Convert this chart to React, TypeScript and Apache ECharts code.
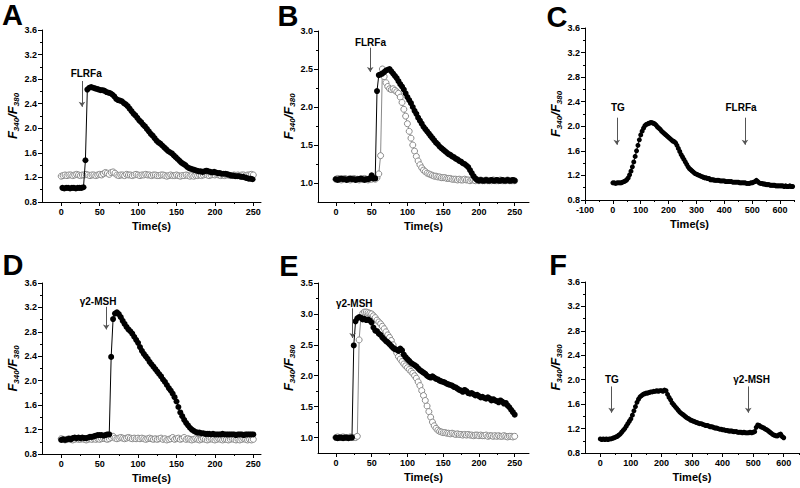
import React, { useEffect, useRef } from "react";
import * as echarts from "echarts";

// ---------------- tick values ----------------
const X_MAJOR_250 = [0, 50, 100, 150, 200, 250];
const X_MINOR_250 = [25, 75, 125, 175, 225];
const X_MAJOR_C = [-100, 0, 100, 200, 300, 400, 500, 600];
const X_MINOR_C = [-50, 50, 150, 250, 350, 450, 550, 650];
const X_MAJOR_F = [0, 100, 200, 300, 400, 500, 600];
const X_MINOR_F = [50, 150, 250, 350, 450, 550, 650];
const Y_MAJOR_36 = [0.8, 1.2, 1.6, 2.0, 2.4, 2.8, 3.2, 3.6];
const Y_MINOR_36 = [1.0, 1.4, 1.8, 2.2, 2.6, 3.0, 3.4];
const Y_MAJOR_30 = [1.0, 1.5, 2.0, 2.5, 3.0];
const Y_MINOR_30 = [1.25, 1.75, 2.25, 2.75];
const Y_MAJOR_35 = [1.0, 1.5, 2.0, 2.5, 3.0, 3.5];
const Y_MINOR_35 = [1.25, 1.75, 2.25, 2.75, 3.25];

// ---------------- data (F340/F380 ratios) ----------------
// A: control (open) sampled every 2.5 s from 0 s
const A_OPEN = [
  1.22, 1.23, 1.24, 1.23, 1.24, 1.24, 1.23, 1.24, 1.25, 1.24,
  1.23, 1.24, 1.24, 1.25, 1.24, 1.23, 1.24, 1.24, 1.23, 1.24,
  1.25, 1.24, 1.26, 1.28, 1.27, 1.25, 1.28, 1.29, 1.27, 1.24,
  1.23, 1.24, 1.24, 1.23, 1.25, 1.24, 1.24, 1.23, 1.24, 1.25,
  1.24, 1.23, 1.24, 1.24, 1.25, 1.24, 1.24, 1.23, 1.24, 1.24,
  1.23, 1.23, 1.24, 1.24, 1.23, 1.22, 1.23, 1.24, 1.23, 1.23,
  1.24, 1.23, 1.22, 1.23, 1.23, 1.24, 1.23, 1.22, 1.23, 1.22,
  1.23, 1.23, 1.24, 1.23, 1.24, 1.25, 1.24, 1.23, 1.24, 1.25,
  1.24, 1.25, 1.24, 1.23, 1.24, 1.23, 1.24, 1.24, 1.23, 1.23,
  1.24, 1.23, 1.24, 1.23, 1.24, 1.24, 1.23, 1.24, 1.24, 1.25,
  1.24,
];
// A: FLRFa (filled) sampled every 2.5 s from 1.5 s
const A_FILLED = [
  1.03, 1.02, 1.03, 1.03, 1.02, 1.03, 1.03, 1.02, 1.03, 1.03,
  1.03, 1.04, 1.48, 2.63, 2.66, 2.67, 2.66, 2.65, 2.64, 2.63,
  2.62, 2.62, 2.61, 2.59, 2.58, 2.57, 2.55, 2.52, 2.48, 2.46,
  2.45, 2.44, 2.41, 2.39, 2.36, 2.32, 2.28, 2.24, 2.21, 2.17,
  2.13, 2.10, 2.06, 2.03, 1.99, 1.95, 1.91, 1.88, 1.84, 1.80,
  1.77, 1.75, 1.72, 1.69, 1.66, 1.63, 1.61, 1.59, 1.56, 1.53,
  1.50, 1.47, 1.44, 1.42, 1.40, 1.37, 1.35, 1.34, 1.33, 1.32,
  1.31, 1.30, 1.30, 1.29, 1.30, 1.31, 1.30, 1.29, 1.28, 1.29,
  1.28, 1.27, 1.27, 1.26, 1.26, 1.26, 1.25, 1.24, 1.23, 1.23,
  1.22, 1.22, 1.22, 1.21, 1.21, 1.20, 1.19, 1.18, 1.18, 1.17,
];
// B: every 2.5 s from 0 s
const B_OPEN = [
  1.05, 1.06, 1.05, 1.04, 1.05, 1.06, 1.05, 1.05, 1.04, 1.05,
  1.06, 1.05, 1.05, 1.04, 1.05, 1.05, 1.06, 1.05, 1.04, 1.05,
  1.05, 1.06, 1.05, 1.07, 1.12, 1.36, 2.50, 2.40, 2.32, 2.27,
  2.24, 2.23, 2.24, 2.22, 2.20, 2.18, 2.13, 2.06, 1.97, 1.88,
  1.78, 1.68, 1.59, 1.50, 1.42, 1.35, 1.29, 1.24, 1.20, 1.17,
  1.15, 1.13, 1.12, 1.11, 1.10, 1.09, 1.09, 1.08, 1.08, 1.07,
  1.07, 1.07, 1.06, 1.06, 1.06, 1.05, 1.05, 1.05, 1.04, 1.05,
  1.04, 1.04, 1.05, 1.04, 1.04, 1.03, 1.04, 1.04, 1.03, 1.04,
  1.03, 1.04, 1.03, 1.03, 1.04, 1.03, 1.03, 1.03, 1.04, 1.03,
  1.03, 1.03, 1.04, 1.03, 1.03, 1.03, 1.04, 1.03, 1.03, 1.03,
  1.03,
];
const B_FILLED = [
  1.05, 1.04, 1.05, 1.06, 1.05, 1.05, 1.04, 1.05, 1.06, 1.05,
  1.05, 1.04, 1.05, 1.05, 1.06, 1.05, 1.04, 1.05, 1.05, 1.06,
  1.10, 1.06, 1.06, 2.21, 2.42, 2.43, 2.44, 2.46, 2.48, 2.49,
  2.50, 2.47, 2.44, 2.41, 2.38, 2.34, 2.30, 2.27, 2.23, 2.18,
  2.13, 2.09, 2.05, 2.00, 1.95, 1.91, 1.86, 1.82, 1.78, 1.74,
  1.71, 1.68, 1.65, 1.62, 1.59, 1.56, 1.53, 1.51, 1.48, 1.46,
  1.44, 1.42, 1.40, 1.38, 1.37, 1.35, 1.34, 1.32, 1.31, 1.29,
  1.28, 1.26, 1.25, 1.23, 1.21, 1.17, 1.13, 1.09, 1.06, 1.04,
  1.03, 1.04, 1.03, 1.03, 1.04, 1.03, 1.03, 1.04, 1.03, 1.03,
  1.04, 1.03, 1.03, 1.04, 1.03, 1.03, 1.04, 1.03, 1.03, 1.04,
  1.03,
];
// C: TG then FLRFa, every 5 s from 0 s
const C_TRACE = [
  1.08, 1.08, 1.07, 1.08, 1.08, 1.08, 1.08, 1.09, 1.10, 1.11,
  1.13, 1.16, 1.21, 1.27, 1.34, 1.42, 1.51, 1.60, 1.69, 1.78,
  1.86, 1.92, 1.97, 2.01, 2.03, 2.04, 2.05, 2.06, 2.06, 2.05,
  2.04, 2.02, 1.99, 1.97, 1.95, 1.92, 1.90, 1.88, 1.86, 1.84,
  1.82, 1.80, 1.78, 1.76, 1.75, 1.73, 1.69, 1.64, 1.59, 1.54,
  1.50, 1.46, 1.42, 1.38, 1.34, 1.31, 1.29, 1.27, 1.25, 1.23,
  1.22, 1.21, 1.20, 1.19, 1.18, 1.17, 1.16, 1.16, 1.15, 1.15,
  1.13, 1.13, 1.13, 1.12, 1.12, 1.12, 1.12, 1.11, 1.11, 1.11,
  1.11, 1.10, 1.10, 1.10, 1.10, 1.10, 1.09, 1.09, 1.09, 1.09,
  1.09, 1.08, 1.08, 1.08, 1.08, 1.08, 1.07, 1.07, 1.07, 1.08,
  1.08, 1.09, 1.10, 1.12, 1.10, 1.08, 1.07, 1.07, 1.06, 1.06,
  1.05, 1.05, 1.05, 1.04, 1.04, 1.04, 1.04, 1.03, 1.03, 1.03,
  1.03, 1.03, 1.03, 1.02, 1.03, 1.02, 1.02, 1.03, 1.02, 1.02,
];
// D: every 2.5 s from 0 s
const D_OPEN = [
  1.05, 1.04, 1.03, 1.04, 1.05, 1.04, 1.03, 1.04, 1.05, 1.04,
  1.04, 1.05, 1.04, 1.03, 1.04, 1.05, 1.04, 1.05, 1.04, 1.05,
  1.04, 1.05, 1.06, 1.05, 1.04, 1.05, 1.07, 1.09, 1.06, 1.05,
  1.06, 1.07, 1.06, 1.05, 1.06, 1.07, 1.06, 1.05, 1.06, 1.05,
  1.06, 1.05, 1.06, 1.05, 1.04, 1.05, 1.06, 1.05, 1.04, 1.05,
  1.04, 1.05, 1.06, 1.04, 1.05, 1.03, 1.04, 1.05, 1.07, 1.04,
  1.05, 1.06, 1.04, 1.05, 1.07, 1.04, 1.05, 1.04, 1.03, 1.04,
  1.05, 1.04, 1.03, 1.04, 1.05, 1.04, 1.03, 1.04, 1.05, 1.04,
  1.03, 1.04, 1.05, 1.04, 1.03, 1.04, 1.04, 1.03, 1.04, 1.05,
  1.04, 1.03, 1.04, 1.03, 1.04, 1.05, 1.04, 1.03, 1.04, 1.03,
  1.04,
];
const D_FILLED = [
  1.03, 1.04, 1.03, 1.04, 1.05, 1.04, 1.06, 1.07, 1.06, 1.07,
  1.06, 1.07, 1.06, 1.06, 1.07, 1.08, 1.08, 1.09, 1.10, 1.11,
  1.11, 1.11, 1.10, 1.11, 1.12, 1.12, 2.39, 3.01, 3.10, 3.12,
  3.09, 3.04, 2.98, 2.93, 2.88, 2.84, 2.81, 2.77, 2.72, 2.67,
  2.62, 2.55, 2.49, 2.44, 2.40, 2.36, 2.31, 2.27, 2.23, 2.19,
  2.15, 2.11, 2.07, 2.02, 1.98, 1.93, 1.88, 1.84, 1.79, 1.73,
  1.66, 1.57, 1.48, 1.42, 1.36, 1.31, 1.27, 1.23, 1.20, 1.18,
  1.16, 1.15, 1.15, 1.14, 1.14, 1.13, 1.13, 1.13, 1.12, 1.13,
  1.12, 1.12, 1.12, 1.12, 1.13, 1.12, 1.12, 1.12, 1.12, 1.12,
  1.12, 1.11, 1.12, 1.12, 1.12, 1.11, 1.12, 1.12, 1.12, 1.12,
  1.12,
];
// E: every 2.5 s from 0 s
const E_OPEN = [
  1.00, 1.01, 1.00, 1.00, 1.01, 1.00, 1.00, 1.00, 1.01, 1.00,
  1.00, 1.00, 1.02, 2.58, 2.95, 3.01, 3.03, 3.03, 3.02, 3.01,
  3.00, 2.97, 2.94, 2.90, 2.87, 2.84, 2.80, 2.76, 2.71, 2.66,
  2.62, 2.57, 2.50, 2.43, 2.37, 2.31, 2.27, 2.23, 2.19, 2.16,
  2.13, 2.10, 2.07, 2.04, 2.00, 1.96, 1.90, 1.84, 1.76, 1.68,
  1.60, 1.51, 1.42, 1.33, 1.25, 1.19, 1.15, 1.12, 1.10, 1.09,
  1.08, 1.08, 1.07, 1.07, 1.06, 1.07, 1.06, 1.05, 1.06, 1.05,
  1.05, 1.04, 1.05, 1.04, 1.05, 1.04, 1.04, 1.03, 1.04, 1.04,
  1.03, 1.04, 1.03, 1.03, 1.04, 1.02, 1.03, 1.03, 1.02, 1.03,
  1.02, 1.03, 1.02, 1.02, 1.03, 1.02, 1.01, 1.02, 1.02, 1.01,
  1.02,
];
const E_FILLED = [
  1.00, 0.99, 1.00, 1.00, 0.99, 1.00, 1.00, 0.99, 1.00, 1.00,
  2.49, 2.88, 2.93, 2.95, 2.94, 2.91, 2.92, 2.90, 2.91, 2.89,
  2.86, 2.78, 2.73, 2.72, 2.68, 2.66, 2.62, 2.59, 2.56, 2.54,
  2.51, 2.48, 2.45, 2.43, 2.42, 2.40, 2.44, 2.41, 2.34, 2.30,
  2.27, 2.24, 2.21, 2.19, 2.17, 2.15, 2.12, 2.09, 2.07, 2.05,
  2.03, 2.00, 1.98, 1.97, 1.99, 1.97, 1.95, 1.94, 1.92, 1.91,
  1.90, 1.89, 1.87, 1.86, 1.85, 1.84, 1.82, 1.81, 1.79, 1.77,
  1.76, 1.74, 1.77, 1.75, 1.72, 1.71, 1.72, 1.70, 1.68, 1.69,
  1.67, 1.65, 1.66, 1.64, 1.63, 1.65, 1.63, 1.60, 1.62, 1.60,
  1.59, 1.57, 1.60, 1.58, 1.55, 1.56, 1.52, 1.49, 1.45, 1.41,
  1.37,
];
// F: TG then γ2-MSH, every 5 s from 0 s
const F_TRACE = [
  1.03, 1.02, 1.03, 1.02, 1.03, 1.02, 1.03, 1.03, 1.04, 1.05,
  1.06, 1.07, 1.09, 1.11, 1.14, 1.17, 1.20, 1.24, 1.28, 1.32,
  1.36, 1.42, 1.49, 1.56, 1.63, 1.68, 1.72, 1.74, 1.76, 1.77,
  1.78, 1.78, 1.79, 1.80, 1.80, 1.81, 1.81, 1.82, 1.81, 1.82,
  1.82, 1.81, 1.83, 1.82, 1.76, 1.71, 1.67, 1.62, 1.59, 1.56,
  1.53, 1.50, 1.47, 1.45, 1.43, 1.41, 1.39, 1.37, 1.36, 1.34,
  1.33, 1.32, 1.31, 1.30, 1.29, 1.28, 1.28, 1.27, 1.26, 1.25,
  1.25, 1.24, 1.23, 1.23, 1.22, 1.21, 1.21, 1.20, 1.19, 1.19,
  1.18, 1.18, 1.17, 1.17, 1.16, 1.16, 1.16, 1.15, 1.15, 1.15,
  1.14, 1.14, 1.14, 1.13, 1.14, 1.13, 1.13, 1.13, 1.14, 1.13,
  1.14, 1.15, 1.22, 1.26, 1.25, 1.23, 1.22, 1.21, 1.19, 1.18,
  1.16, 1.14, 1.12, 1.10, 1.09, 1.08, 1.08, 1.10, 1.11, 1.07,
  1.05,
];

// ---------------- layout & styles ----------------
const FONT = "'Liberation Sans', Arial, Helvetica, sans-serif";
const BLACK = "#000000";
const OPEN_GRAY = "#8a8a8a";

type Trace = { kind: "open" | "filled" | "trace"; t0: number; step: number; values: number[] };
type Note = { text: string; at: [number, number]; arrow: [number, number, number] };
type Panel = {
  letter: string;
  letterPos: [number, number];
  rect: { left: number; top: number; width: number; height: number };
  x: [number, number];
  xMajor: number[];
  xMinor: number[];
  y: [number, number];
  yMajor: number[];
  yMinor: number[];
  traces: Trace[];
  notes: Note[];
};

const PANELS: Panel[] = [
  {
    letter: "A", letterPos: [12.5, 15],
    rect: { left: 42, top: 30, width: 219, height: 172 },
    x: [-25, 260], xMajor: X_MAJOR_250, xMinor: X_MINOR_250,
    y: [0.8, 3.6], yMajor: Y_MAJOR_36, yMinor: Y_MINOR_36,
    traces: [
      { kind: "open", t0: 0, step: 2.5, values: A_OPEN },
      { kind: "filled", t0: 1.5, step: 2.5, values: A_FILLED },
    ],
    notes: [{ text: "FLRFa", at: [32.5, 2.89], arrow: [27, 2.77, 2.35] }],
  },
  {
    letter: "B", letterPos: [288, 15.5],
    rect: { left: 318, top: 31, width: 211, height: 171 },
    x: [-25, 270], xMajor: X_MAJOR_250, xMinor: X_MINOR_250,
    y: [0.75, 3.0], yMajor: Y_MAJOR_30, yMinor: Y_MINOR_30,
    traces: [
      { kind: "open", t0: 0, step: 2.5, values: B_OPEN },
      { kind: "filled", t0: 0, step: 2.5, values: B_FILLED },
    ],
    notes: [{ text: "FLRFa", at: [48.3, 2.85], arrow: [48, 2.78, 2.46] }],
  },
  {
    letter: "C", letterPos: [557, 16.5],
    rect: { left: 585, top: 28, width: 209, height: 172 },
    x: [-100, 650], xMajor: X_MAJOR_C, xMinor: X_MINOR_C,
    y: [0.8, 3.6], yMajor: Y_MAJOR_36, yMinor: Y_MINOR_36,
    traces: [{ kind: "trace", t0: 0, step: 5, values: C_TRACE }],
    notes: [
      { text: "TG", at: [18, 2.3], arrow: [14, 2.14, 1.7] },
      { text: "FLRFa", at: [460, 2.3], arrow: [474, 2.14, 1.7] },
    ],
  },
  {
    letter: "D", letterPos: [13, 265],
    rect: { left: 42, top: 283, width: 219, height: 171 },
    x: [-25, 260], xMajor: X_MAJOR_250, xMinor: X_MINOR_250,
    y: [0.8, 3.6], yMajor: Y_MAJOR_36, yMinor: Y_MINOR_36,
    traces: [
      { kind: "open", t0: 0, step: 2.5, values: D_OPEN },
      { kind: "filled", t0: 0, step: 2.5, values: D_FILLED },
    ],
    notes: [{ text: "γ2-MSH", at: [48, 3.3], arrow: [58.6, 3.21, 2.84] }],
  },
  {
    letter: "E", letterPos: [289, 266],
    rect: { left: 318, top: 283, width: 211, height: 170 },
    x: [-25, 270], xMajor: X_MAJOR_250, xMinor: X_MINOR_250,
    y: [0.75, 3.5], yMajor: Y_MAJOR_35, yMinor: Y_MINOR_35,
    traces: [
      { kind: "open", t0: 0, step: 2.5, values: E_OPEN },
      { kind: "filled", t0: 0, step: 2.5, values: E_FILLED },
    ],
    notes: [{ text: "γ2-MSH", at: [25.7, 3.17], arrow: [23.4, 3.09, 2.61] }],
  },
  {
    letter: "F", letterPos: [558, 265],
    rect: { left: 585, top: 282, width: 214, height: 171 },
    x: [-50, 650], xMajor: X_MAJOR_F, xMinor: X_MINOR_F,
    y: [0.8, 3.6], yMajor: Y_MAJOR_36, yMinor: Y_MINOR_36,
    traces: [{ kind: "trace", t0: 0, step: 5, values: F_TRACE }],
    notes: [
      { text: "TG", at: [38, 2.0], arrow: [37, 1.89, 1.46] },
      { text: "γ2-MSH", at: [495, 2.0], arrow: [484, 1.89, 1.46] },
    ],
  },
];

const toPairs = (t: Trace) => t.values.map((v, i) => [t.t0 + i * t.step, v]);

function buildOption() {
  const grid: any[] = [];
  const xAxis: any[] = [];
  const yAxis: any[] = [];
  const series: any[] = [];
  const graphic: any[] = [];

  PANELS.forEach((p, i) => {
    grid.push({ ...p.rect, containLabel: false, outerBoundsMode: "none" });

    xAxis.push({
      type: "value", gridIndex: i, min: p.x[0], max: p.x[1], position: "bottom",
      axisLine: { show: true, onZero: false, lineStyle: { color: BLACK, width: 1 } },
      axisTick: { show: true, customValues: p.xMajor, length: 4, lineStyle: { color: BLACK, width: 1 } },
      axisLabel: {
        show: true, customValues: p.xMajor, margin: 5, fontSize: 9, fontWeight: "bold",
        fontFamily: FONT, color: BLACK,
      },
      splitLine: { show: false },
      name: "Time(s)", nameLocation: "middle", nameGap: 18,
      nameTextStyle: { fontSize: 11, fontWeight: "bold", fontFamily: FONT, color: BLACK },
    });
    xAxis.push({
      type: "value", gridIndex: i, min: p.x[0], max: p.x[1], position: "bottom",
      axisLine: { show: false, onZero: false },
      axisTick: { show: true, customValues: p.xMinor, length: 2, lineStyle: { color: BLACK, width: 1 } },
      axisLabel: { show: false },
      splitLine: { show: false },
    });

    yAxis.push({
      type: "value", gridIndex: i, min: p.y[0], max: p.y[1], position: "left",
      axisLine: { show: true, onZero: false, lineStyle: { color: BLACK, width: 1 } },
      axisTick: { show: true, customValues: p.yMajor, length: 4, lineStyle: { color: BLACK, width: 1 } },
      axisLabel: {
        show: true, customValues: p.yMajor, margin: 5, fontSize: 9, fontWeight: "bold",
        fontFamily: FONT, color: BLACK, formatter: (v: number) => v.toFixed(1),
      },
      splitLine: { show: false },
      name: "{f|F}{s|340}{f|/F}{s|380}",
      nameLocation: "middle", nameRotate: 90, nameGap: 21,
      nameTextStyle: {
        color: BLACK,
        rich: {
          f: { fontSize: 13, fontWeight: "bold", fontStyle: "italic", fontFamily: FONT, color: BLACK, lineHeight: 16 },
          s: { fontSize: 8, fontWeight: "bold", fontStyle: "italic", fontFamily: FONT, color: BLACK, lineHeight: 9, verticalAlign: "bottom" },
        },
      },
    });
    yAxis.push({
      type: "value", gridIndex: i, min: p.y[0], max: p.y[1], position: "left",
      axisLine: { show: false, onZero: false },
      axisTick: { show: true, customValues: p.yMinor, length: 2, lineStyle: { color: BLACK, width: 1 } },
      axisLabel: { show: false },
      splitLine: { show: false },
    });

    p.traces.forEach((t, k) => {
      const isOpen = t.kind === "open";
      const isTrace = t.kind === "trace";
      const s: any = {
        type: "line",
        xAxisIndex: 2 * i,
        yAxisIndex: 2 * i,
        data: toPairs(t),
        symbol: "circle",
        symbolSize: isTrace ? 5 : 6,
        showSymbol: true,
        silent: true,
        lineStyle: { color: isOpen ? OPEN_GRAY : BLACK, width: 1 },
        itemStyle: isOpen
          ? { color: "#ffffff", borderColor: OPEN_GRAY, borderWidth: 1 }
          : { color: BLACK, borderWidth: 0 },
        emphasis: { disabled: true },
        z: 2 + k,
      };
      if (k === p.traces.length - 1) {
        s.markLine = {
          silent: true,
          symbol: ["none", "arrow"],
          symbolSize: 5,
          label: { show: false },
          lineStyle: { color: "#555555", width: 1, type: "solid" },
          emphasis: { disabled: true },
          data: p.notes.map((n) => [
            { coord: [n.arrow[0], n.arrow[1]] },
            { coord: [n.arrow[0], n.arrow[2]] },
          ]),
        };
        s.markPoint = {
          silent: true,
          symbol: "circle",
          symbolSize: 1,
          itemStyle: { color: "rgba(0,0,0,0)" },
          emphasis: { disabled: true },
          data: p.notes.map((n) => ({
            coord: n.at,
            label: {
              show: true, position: "inside", formatter: n.text,
              fontSize: 10, fontWeight: "bold", fontFamily: FONT, color: BLACK,
            },
          })),
        };
      }
      series.push(s);
    });

    graphic.push({
      type: "text",
      x: p.letterPos[0],
      y: p.letterPos[1],
      style: {
        text: p.letter,
        fontSize: 29,
        fontWeight: "bold",
        fontFamily: FONT,
        fill: BLACK,
        align: "center",
        verticalAlign: "middle",
        textAlign: "center",
        textVerticalAlign: "middle",
      },
    });
  });

  return {
    animation: false,
    backgroundColor: "#ffffff",
    grid,
    xAxis,
    yAxis,
    series,
    graphic,
    tooltip: { show: false },
  };
}

export default function App() {
  const ref = useRef<HTMLDivElement>(null);
  useEffect(() => {
    document.body.style.margin = "0";
    if (!ref.current) return;
    const chart = echarts.init(ref.current, null, { renderer: "svg" });
    chart.setOption(buildOption() as any);
    return () => chart.dispose();
  }, []);
  return (
    <div style={{ position: "fixed", left: 0, top: 0, width: 800, height: 488, background: "#fff" }}>
      <div ref={ref} style={{ width: 800, height: 488 }} />
    </div>
  );
}
